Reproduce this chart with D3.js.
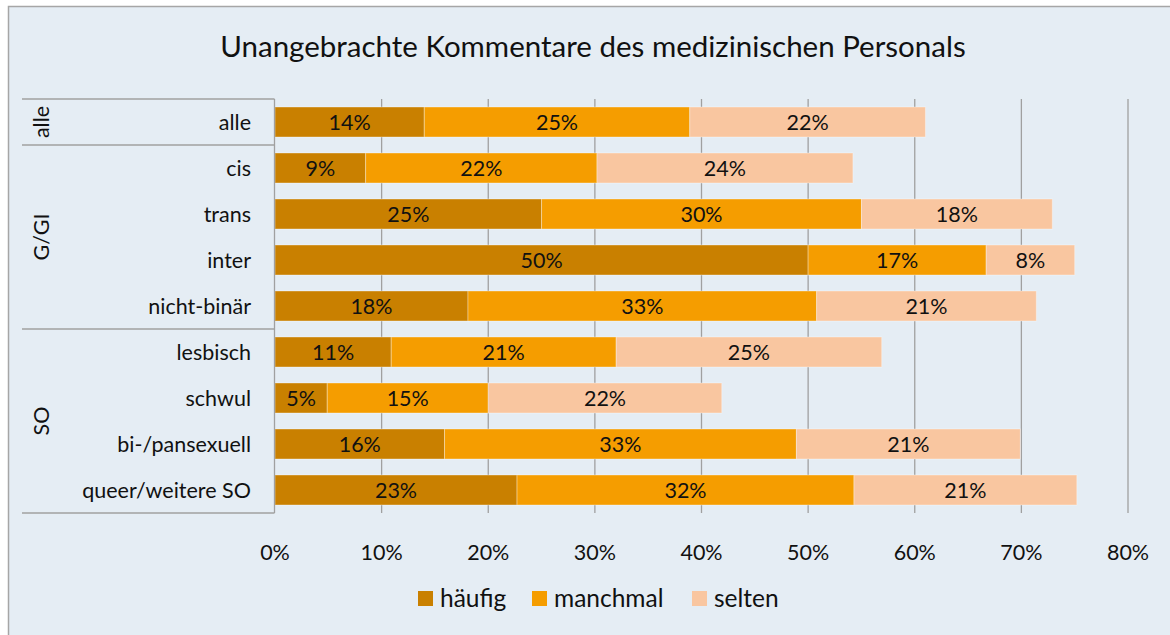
<!DOCTYPE html>
<html>
<head>
<meta charset="utf-8">
<script src="https://cdn.jsdelivr.net/npm/d3@7"></script>
<style>
  html, body { margin: 0; padding: 0; background: #fff; }
  svg { display: block; font-family: Lato, "Open Sans", sans-serif; }
</style>
</head>
<body>
<svg id="chart" width="1170" height="635"></svg>
<script>
// categories (top to bottom) and the group each belongs to
var categories = ["alle", "cis", "trans", "inter", "nicht-binär", "lesbisch", "schwul", "bi-/pansexuell", "queer/weitere SO"];
var groups = [
  { name: "alle", members: ["alle"] },
  { name: "G/GI", members: ["cis", "trans", "inter", "nicht-binär"] },
  { name: "SO", members: ["lesbisch", "schwul", "bi-/pansexuell", "queer/weitere SO"] }
];
var seriesNames = ["häufig", "manchmal", "selten"];
var seriesColors = ["#c98000", "#f59d00", "#f9c6a0"];

// shares in percent
var haeufig  = [14.0, 8.5, 25.0, 50.0, 18.1, 10.9, 4.9, 15.9, 22.7];
var manchmal = [24.9, 21.7, 30.0, 16.7, 32.7, 21.1, 15.1, 33.0, 31.6];
var selten   = [22.1, 24.0, 17.9, 8.3, 20.6, 24.9, 21.9, 21.0, 20.9];

var tickValues = [0, 10, 20, 30, 40, 50, 60, 70, 80];

var svg = d3.select("#chart");
var bg = "#e5edf4";
var fs = 21.5;

// chart frame
svg.append("rect")
  .attr("x", 8.5).attr("y", 6.5)
  .attr("width", 1180).attr("height", 640)
  .attr("fill", bg)
  .attr("stroke", "#a6a6a6")
  .attr("stroke-width", 1.5);

svg.append("text")
  .attr("x", 593).attr("y", 57)
  .attr("text-anchor", "middle")
  .attr("font-size", 29.5)
  .attr("fill", "#111")
  .text("Unangebrachte Kommentare des medizinischen Personals");

var x = d3.scaleLinear().domain([0, 80]).range([275, 1128]);
var y = d3.scaleBand().domain(categories).range([99, 513])
  .paddingInner(0.348).paddingOuter(0.174);

// gridlines
svg.append("g")
  .selectAll("line")
  .data(tickValues.slice(1))
  .enter().append("line")
  .attr("x1", d => x(d)).attr("x2", d => x(d))
  .attr("y1", 99).attr("y2", 513)
  .attr("stroke", "#a0a0a0")
  .attr("stroke-width", 1.3);

// stack the series
var rows = categories.map(function(c, i) {
  return { cat: c, "häufig": haeufig[i], "manchmal": manchmal[i], "selten": selten[i] };
});
var stacked = d3.stack().keys(seriesNames)(rows);

var layer = svg.append("g").selectAll("g")
  .data(stacked)
  .enter().append("g")
  .attr("fill", (d, i) => seriesColors[i]);

layer.selectAll("rect")
  .data(d => d)
  .enter().append("rect")
  .attr("x", d => x(d[0]))
  .attr("y", d => y(d.data.cat))
  .attr("width", d => x(d[1]) - x(d[0]))
  .attr("height", y.bandwidth())
  .attr("stroke", "rgba(255,255,255,0.35)")
  .attr("stroke-width", 1);

layer.selectAll("text")
  .data(d => d)
  .enter().append("text")
  .attr("x", d => (x(d[0]) + x(d[1])) / 2)
  .attr("y", d => y(d.data.cat) + y.bandwidth() / 2)
  .attr("dy", "0.36em")
  .attr("text-anchor", "middle")
  .attr("font-size", fs)
  .attr("fill", "#111")
  .text(d => Math.round(d[1] - d[0]) + "%");

// vertical axis line
svg.append("line")
  .attr("x1", 274.5).attr("x2", 274.5)
  .attr("y1", 99).attr("y2", 513)
  .attr("stroke", "#a0a0a0").attr("stroke-width", 1.3);

// category labels
svg.append("g")
  .selectAll("text")
  .data(categories)
  .enter().append("text")
  .attr("x", 251)
  .attr("y", d => y(d) + y.bandwidth() / 2)
  .attr("dy", "0.36em")
  .attr("text-anchor", "end")
  .attr("font-size", fs)
  .attr("fill", "#111")
  .text(d => d);

// group separators and labels
var groupBounds = groups.map(function(g) {
  var first = g.members[0], last = g.members[g.members.length - 1];
  var top = y(first) - y.step() * y.paddingOuter();
  var bottom = y(last) + y.bandwidth() + y.step() * y.paddingOuter();
  return { name: g.name, top: top, bottom: bottom };
});
var sepY = [groupBounds[0].top].concat(groupBounds.map(g => g.bottom));
svg.append("g")
  .selectAll("line")
  .data(sepY)
  .enter().append("line")
  .attr("x1", 22).attr("x2", 274.5)
  .attr("y1", d => d).attr("y2", d => d)
  .attr("stroke", "#a0a0a0").attr("stroke-width", 1.3);

svg.append("g")
  .selectAll("text")
  .data(groupBounds)
  .enter().append("text")
  .attr("transform", d => "translate(41," + (d.top + d.bottom) / 2 + ") rotate(-90)")
  .attr("dy", "0.36em")
  .attr("text-anchor", "middle")
  .attr("font-size", fs)
  .attr("fill", "#111")
  .text(d => d.name);

// x tick labels
svg.append("g")
  .selectAll("text")
  .data(tickValues)
  .enter().append("text")
  .attr("x", d => x(d))
  .attr("y", 552)
  .attr("dy", "0.36em")
  .attr("text-anchor", "middle")
  .attr("font-size", fs)
  .attr("fill", "#111")
  .text(d => d + "%");

// legend
var legendX = [418, 532, 692];
var legend = svg.append("g").selectAll("g")
  .data(seriesNames)
  .enter().append("g")
  .attr("transform", (d, i) => "translate(" + legendX[i] + ",591)");
legend.append("rect")
  .attr("width", 15).attr("height", 15)
  .attr("fill", (d, i) => seriesColors[i]);
legend.append("text")
  .attr("x", 22).attr("y", 7.5)
  .attr("dy", "0.36em")
  .attr("font-size", 24.5)
  .attr("fill", "#111")
  .text(d => d);
</script>
</body>
</html>
